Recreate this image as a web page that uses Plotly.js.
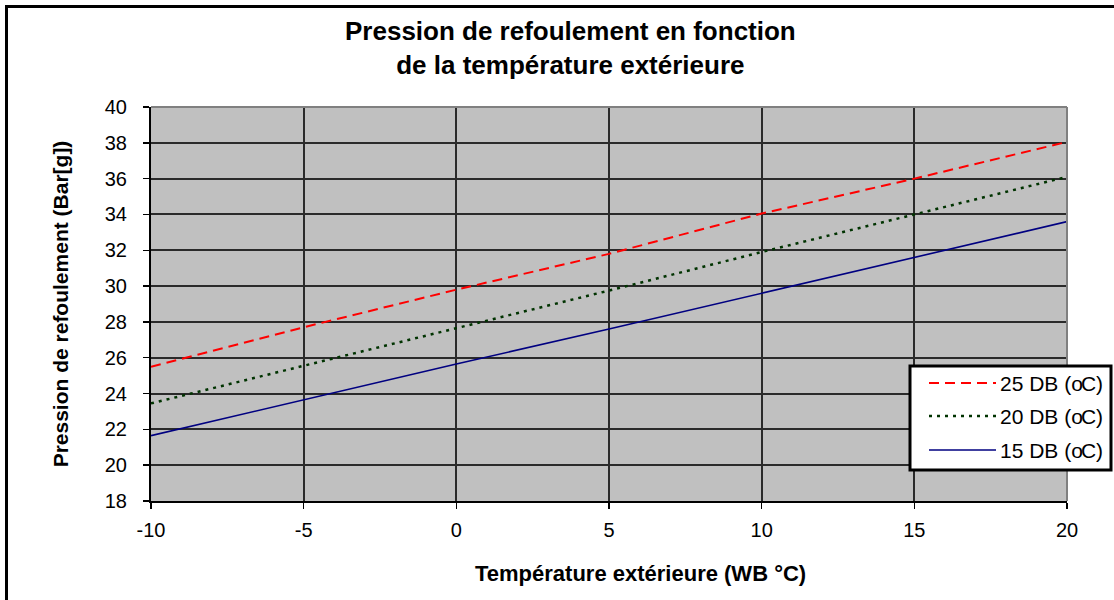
<!DOCTYPE html>
<html>
<head>
<meta charset="utf-8">
<script src="https://cdn.plot.ly/plotly-3.0.1.min.js"></script>
<style>
html,body{margin:0;padding:0;background:#fff;}
#chart{width:1114px;height:600px;}
</style>
</head>
<body>
<div id="chart"></div>
<script>
// Data
const temps = [-10, -5, 0, 5, 10, 15, 20];
const db25 = [25.5, 27.7, 29.8, 31.8, 34.05, 36.0, 38.05];
const db20 = [23.45, 25.55, 27.65, 29.75, 31.9, 34.0, 36.1];
const db15 = [21.65, 23.65, 25.65, 27.6, 29.6, 31.6, 33.6];
const seriesNames = ['25 DB (oC)', '20 DB (oC)', '15 DB (oC)'];
const seriesColors = ['#FF0000', '#003300', '#000080'];
const seriesDash = ['10px,6px', '3px,5px', 'solid'];
const seriesWidth = [2, 2.5, 1.6];
const xTicks = [-10, -5, 0, 5, 10, 15, 20];
const yTicks = [18, 20, 22, 24, 26, 28, 30, 32, 34, 36, 38, 40];

const FONT = 'Arial, "Liberation Sans", sans-serif';
const ys = [db25, db20, db15];

const traces = ys.map((y, i) => ({
  x: temps, y: y, type: 'scatter', mode: 'lines', name: seriesNames[i],
  line: {color: seriesColors[i], width: seriesWidth[i], dash: seriesDash[i]},
  showlegend: false, hoverinfo: 'skip'
}));

// plot area geometry (pixels) for paper conversion
const L = 151, R = 1067, T = 107, B = 501;
const W = R - L, H = B - T;
const px = x => (x - L) / W;
const py = y => (B - y) / H;

const shapes = [
  // outer chart border (cropped on right and bottom)
  {type: 'rect', xref: 'paper', yref: 'paper', x0: px(6.5), x1: px(1300), y0: py(900), y1: py(6.5),
   line: {color: '#000', width: 3}, fillcolor: 'rgba(0,0,0,0)', layer: 'above'},
  // plot frame top/right in gray
  {type: 'line', xref: 'paper', yref: 'paper', x0: 0, x1: 1, y0: 1, y1: 1, line: {color: '#808080', width: 2}, layer: 'above'},
  {type: 'line', xref: 'paper', yref: 'paper', x0: 1, x1: 1, y0: 0, y1: 1, line: {color: '#808080', width: 2}, layer: 'above'},
  // legend box
  {type: 'rect', xref: 'paper', yref: 'paper', x0: px(910), x1: px(1111), y0: py(470), y1: py(366),
   line: {color: '#000', width: 3}, fillcolor: '#FFFFFF', layer: 'above'}
];
const annotations = [];
const rowY = [383, 416, 450];
for (let i = 0; i < 3; i++) {
  shapes.push({type: 'line', xref: 'paper', yref: 'paper', x0: px(929), x1: px(996), y0: py(rowY[i]), y1: py(rowY[i]),
    line: {color: seriesColors[i], width: seriesWidth[i], dash: seriesDash[i]}, layer: 'above'});
  annotations.push({xref: 'paper', yref: 'paper', x: px(998), y: py(rowY[i]), xanchor: 'left', yanchor: 'middle',
    text: seriesNames[i].replace('oC', '<span style="letter-spacing:-2px">o</span>C'), showarrow: false,
    font: {family: FONT, size: 21, color: '#000'}});
}
// x-axis title (offset to the right as in the reference)
annotations.push({xref: 'paper', yref: 'paper', x: px(640), y: py(573), xanchor: 'center', yanchor: 'middle',
  text: '<b>Température extérieure (WB °C)</b>', showarrow: false, font: {family: FONT, size: 22, color: '#000'}});

const layout = {
  width: 1114, height: 600,
  margin: {l: L, r: 1114 - R, t: T, b: 600 - B, pad: 0},
  paper_bgcolor: '#FFFFFF', plot_bgcolor: '#C0C0C0',
  font: {family: FONT, size: 20, color: '#000'},
  title: {text: '<b>Pression de refoulement en fonction<br>de la température extérieure</b>',
    x: 0.512, xanchor: 'center', y: 1 - 40 / 600, yanchor: 'middle', font: {family: FONT, size: 26, color: '#000'}},
  xaxis: {range: [-10, 20], tickvals: xTicks, ticktext: xTicks.map(String), showgrid: true, gridcolor: '#2a2a2a', gridwidth: 2,
    zeroline: false, showline: true, linecolor: '#000', linewidth: 2, ticks: 'outside', ticklen: 6, tickcolor: '#000', tickwidth: 1.5,
    tickfont: {family: FONT, size: 20}, ticklabelstandoff: 4, fixedrange: true},
  yaxis: {range: [18, 40], tickvals: yTicks, ticktext: yTicks.map(String), showgrid: true, gridcolor: '#2a2a2a', gridwidth: 2,
    zeroline: false, showline: true, linecolor: '#000', linewidth: 2, ticks: 'outside', ticklen: 6, tickcolor: '#000', tickwidth: 1.5,
    tickfont: {family: FONT, size: 20}, ticklabelstandoff: 12, fixedrange: true,
    title: {text: '<b>Pression de refoulement (Bar[g])</b>', font: {family: FONT, size: 21}, standoff: 30}},
  shapes: shapes,
  annotations: annotations,
  showlegend: false
};

Plotly.newPlot('chart', traces, layout, {staticPlot: true, displayModeBar: false});
</script>
</body>
</html>
